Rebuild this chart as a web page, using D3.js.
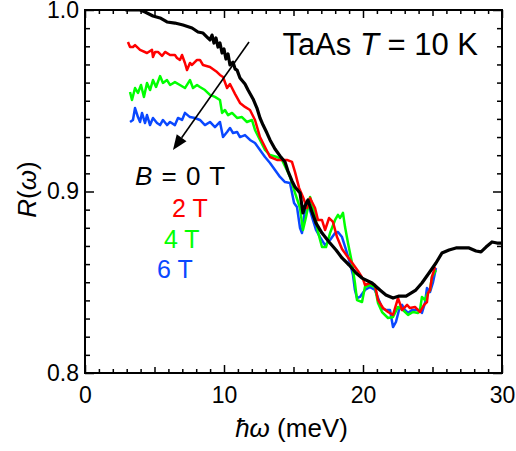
<!DOCTYPE html>
<html>
<head>
<meta charset="utf-8">
<script src="https://cdn.jsdelivr.net/npm/d3@7"></script>
<style>
  body { margin: 0; background: #fff; }
  svg { display: block; font-family: "Liberation Sans", Arial, sans-serif; }
</style>
</head>
<body>
<svg id="chart" width="516" height="451"></svg>
<script>
// photon energy (meV) and reflectivity
var b0E = [2.9, 3.96, 4.32, 4.89, 5.4, 5.9, 6.47, 7.05, 7.7, 8.13, 8.49, 8.78, 8.99, 9.14, 9.28, 9.42, 9.57, 9.71, 9.86, 10.0, 10.14, 10.29, 10.43, 10.65, 10.8, 10.94, 11.15, 11.51, 11.73, 12.09, 12.37, 12.59, 12.81, 13.09, 13.31, 13.67, 14.03, 14.39, 14.6, 14.89, 15.11, 15.47, 15.68, 15.83, 16.04, 16.33, 16.62, 17.05, 17.56, 18.06, 18.49, 19.0, 19.5, 19.93, 20.65, 21.22, 21.65, 22.16, 22.6, 23.1, 23.8, 24.24, 24.75, 25.25, 25.68, 26.19, 26.69, 27.63, 28.13, 28.49, 28.85, 29.28, 29.64, 30.0];
var b0R = [1.0, 1.0, 0.9989, 0.9967, 0.9956, 0.9934, 0.9928, 0.9917, 0.9901, 0.9879, 0.9873, 0.9851, 0.9835, 0.9862, 0.9818, 0.9846, 0.9796, 0.9818, 0.9763, 0.9785, 0.973, 0.9758, 0.9697, 0.9713, 0.9675, 0.9669, 0.9625, 0.9592, 0.9559, 0.951, 0.946, 0.9405, 0.9366, 0.9322, 0.9284, 0.9234, 0.9196, 0.9163, 0.9113, 0.9058, 0.9025, 0.8992, 0.8882, 0.892, 0.8953, 0.8887, 0.8826, 0.8771, 0.8722, 0.8678, 0.8634, 0.8595, 0.8551, 0.8523, 0.8496, 0.8457, 0.843, 0.8413, 0.8424, 0.8424, 0.8457, 0.8496, 0.8551, 0.8606, 0.8661, 0.8678, 0.8689, 0.8689, 0.8672, 0.8667, 0.8694, 0.8722, 0.8716, 0.8716];

var b2E = [3.09, 3.24, 3.45, 3.6, 3.96, 4.46, 4.82, 4.89, 5.04, 5.25, 5.54, 5.76, 6.12, 6.47, 6.62, 6.83, 6.98, 7.19, 7.34, 7.55, 7.7, 8.06, 8.27, 8.49, 8.99, 9.5, 9.71, 9.93, 10.22, 10.43, 10.79, 11.15, 11.51, 11.87, 12.23, 12.59, 12.95, 13.31, 13.81, 14.53, 14.89, 15.11, 15.4, 15.68, 15.97, 16.19, 16.55, 16.76, 17.05, 17.27, 17.56, 17.84, 18.13, 18.49, 18.85, 19.28, 19.64, 20.0, 20.14, 20.5, 20.86, 21.08, 21.44, 21.8, 22.16, 22.52, 22.81, 23.17, 23.38, 23.74, 24.1, 24.39, 24.6, 24.68, 24.82, 24.96, 25.18];
var b2R = [0.9824, 0.9796, 0.9796, 0.9807, 0.978, 0.9763, 0.978, 0.9741, 0.9769, 0.9769, 0.9747, 0.9769, 0.9752, 0.9752, 0.9736, 0.9725, 0.9752, 0.9708, 0.9669, 0.9708, 0.9697, 0.9725, 0.9725, 0.9697, 0.9686, 0.9658, 0.9642, 0.9631, 0.957, 0.9592, 0.9538, 0.9488, 0.9466, 0.9449, 0.9394, 0.93, 0.9245, 0.919, 0.9174, 0.9174, 0.9163, 0.9107, 0.902, 0.897, 0.8909, 0.8964, 0.8909, 0.8843, 0.8843, 0.8788, 0.8854, 0.8832, 0.8749, 0.8683, 0.8645, 0.86, 0.8562, 0.8518, 0.8485, 0.8496, 0.8485, 0.8402, 0.8358, 0.8336, 0.832, 0.8413, 0.8347, 0.8375, 0.8358, 0.8364, 0.8336, 0.8375, 0.8391, 0.8441, 0.8457, 0.8529, 0.8584];

var b4E = [3.24, 3.38, 3.6, 3.81, 4.03, 4.24, 4.46, 4.68, 4.89, 5.11, 5.4, 5.61, 5.9, 6.12, 6.47, 6.83, 7.19, 7.55, 7.77, 8.06, 8.27, 8.63, 8.99, 9.35, 9.71, 9.86, 10.07, 10.29, 10.58, 10.94, 11.29, 11.65, 12.01, 12.23, 12.59, 12.95, 13.31, 13.81, 14.17, 14.53, 14.75, 15.11, 15.47, 15.68, 15.9, 16.19, 16.55, 16.76, 17.05, 17.34, 17.63, 17.99, 18.2, 18.35, 18.56, 18.71, 18.92, 19.21, 19.42, 19.57, 19.93, 20.14, 20.5, 20.86, 21.08, 21.37, 21.8, 22.16, 22.52, 22.88, 23.24, 23.6, 23.96, 24.1, 24.24, 24.46, 24.6, 24.82, 24.96, 25.25];
var b4R = [0.9548, 0.9504, 0.957, 0.9543, 0.9587, 0.9521, 0.9598, 0.9559, 0.9614, 0.9576, 0.9636, 0.9598, 0.9614, 0.9587, 0.9603, 0.9587, 0.957, 0.9614, 0.957, 0.9587, 0.9576, 0.9559, 0.9532, 0.9521, 0.9504, 0.9433, 0.9449, 0.9421, 0.9433, 0.9405, 0.941, 0.9383, 0.9394, 0.9339, 0.9284, 0.9229, 0.9201, 0.919, 0.9174, 0.9118, 0.908, 0.8992, 0.8909, 0.8788, 0.886, 0.897, 0.8871, 0.8777, 0.8694, 0.8694, 0.8771, 0.8843, 0.8871, 0.8854, 0.8882, 0.8804, 0.8716, 0.8606, 0.8496, 0.8402, 0.8391, 0.8474, 0.8485, 0.8474, 0.8386, 0.8336, 0.8303, 0.8309, 0.8364, 0.8347, 0.832, 0.8336, 0.8331, 0.8347, 0.8419, 0.8402, 0.843, 0.8457, 0.8529, 0.8567];

var b6E = [3.24, 3.45, 3.6, 3.81, 3.96, 4.1, 4.32, 4.46, 4.68, 4.89, 5.18, 5.4, 5.61, 5.9, 6.12, 6.47, 6.69, 6.98, 7.19, 7.55, 7.91, 8.27, 8.63, 8.99, 9.35, 9.71, 9.93, 10.22, 10.43, 10.65, 10.94, 11.15, 11.51, 11.87, 12.23, 12.59, 12.95, 13.31, 13.67, 14.03, 14.39, 14.75, 15.04, 15.25, 15.47, 15.61, 15.83, 16.04, 16.33, 16.62, 16.91, 17.27, 17.63, 17.99, 18.2, 18.49, 18.78, 19.06, 19.28, 19.42, 19.57, 19.78, 20.14, 20.5, 20.86, 21.08, 21.37, 21.65, 21.94, 22.16, 22.37, 22.59, 22.81, 23.02, 23.24, 23.53, 23.81, 24.1, 24.24, 24.46, 24.6, 24.82, 25.04, 25.25];
var b6R = [0.9383, 0.9394, 0.946, 0.941, 0.9383, 0.9433, 0.9377, 0.9421, 0.9366, 0.9405, 0.9377, 0.9366, 0.9394, 0.9366, 0.9383, 0.9366, 0.9405, 0.9394, 0.9433, 0.941, 0.9405, 0.9394, 0.9366, 0.9383, 0.9355, 0.9383, 0.93, 0.9328, 0.935, 0.9322, 0.9328, 0.93, 0.9311, 0.9284, 0.9267, 0.9229, 0.919, 0.9157, 0.9118, 0.908, 0.9052, 0.9047, 0.8937, 0.8915, 0.8799, 0.8771, 0.8898, 0.8937, 0.886, 0.8788, 0.8749, 0.8705, 0.8733, 0.8771, 0.8777, 0.8749, 0.8678, 0.8606, 0.854, 0.8457, 0.8413, 0.8419, 0.8457, 0.8474, 0.8457, 0.8413, 0.8358, 0.8347, 0.8347, 0.8253, 0.8281, 0.8347, 0.8375, 0.8347, 0.8331, 0.8347, 0.8347, 0.8347, 0.8331, 0.8386, 0.8468, 0.8446, 0.8501, 0.8579];

var fieldLabels = ["0 T", "2 T", "4 T", "6 T"];
var fieldColors = ["#000000", "#ff0000", "#00ff00", "#0a48ff"];
var xTicks = [0, 10, 20, 30];
var yTicks = [0.8, 0.9, 1.0];

var svg = d3.select("#chart");
var W = +svg.attr("width"), H = +svg.attr("height");
var margin = {top: 10, right: 14, bottom: 78, left: 85};
var width = W - margin.left - margin.right,
    height = H - margin.top - margin.bottom;

var x = d3.scaleLinear().domain([0, 30]).range([0, width]);
var y = d3.scaleLinear().domain([0.8, 1.0]).range([height, 0]);

var g = svg.append("g").attr("transform", "translate(" + margin.left + "," + margin.top + ")");

svg.append("defs").append("clipPath").attr("id", "clip")
  .append("rect").attr("width", width).attr("height", height);

// curves, 6 T drawn first so the zero field trace sits on top
var series = [
  {E: b6E, R: b6R, c: fieldColors[3], w: 2.5},
  {E: b4E, R: b4R, c: fieldColors[2], w: 2.5},
  {E: b2E, R: b2R, c: fieldColors[1], w: 2.5},
  {E: b0E, R: b0R, c: fieldColors[0], w: 3.2}
];
var line = d3.line().x(function(d) { return x(d[0]); }).y(function(d) { return y(d[1]); });

g.append("g").attr("clip-path", "url(#clip)")
  .selectAll("path").data(series).enter().append("path")
  .attr("d", function(s) { return line(d3.zip(s.E, s.R)); })
  .attr("fill", "none")
  .attr("stroke", function(s) { return s.c; })
  .attr("stroke-width", function(s) { return s.w; })
  .attr("stroke-linejoin", "round");

// axes: ticks point inward on all four sides
function styleAxis(sel) {
  sel.select(".domain").remove();
  sel.selectAll("line").attr("stroke", "#000").attr("stroke-width", 1.5);
  sel.selectAll("text").attr("font-size", "23px").attr("fill", "#000");
}
var xMinor = d3.range(0, 31, 1).filter(function(v) { return v % 5 != 0; });
var xMid = [5, 15, 25];
var yMinor = d3.range(0, 21, 1).map(function(i) { return +(0.8 + i * 0.01).toFixed(2); })
  .filter(function(v) { return yTicks.indexOf(v) < 0; });

[[d3.axisBottom, height, 1], [d3.axisTop, 0, 0]].forEach(function(a) {
  var ax = g.append("g").attr("transform", "translate(0," + a[1] + ")");
  ax.append("g").call(a[0](x).tickValues(xMinor).tickSize(-4).tickFormat("")).call(styleAxis);
  ax.append("g").call(a[0](x).tickValues(xMid).tickSize(-6).tickFormat("")).call(styleAxis);
  ax.append("g").call(a[0](x).tickValues(xTicks).tickSize(-8).tickPadding(14)
    .tickFormat(a[2] ? d3.format("d") : "")).call(styleAxis);
});
[[d3.axisLeft, 0, 1], [d3.axisRight, width, 0]].forEach(function(a) {
  var ax = g.append("g").attr("transform", "translate(" + a[1] + ",0)");
  ax.append("g").call(a[0](y).tickValues(yMinor).tickSize(-5).tickFormat("")).call(styleAxis);
  ax.append("g").call(a[0](y).tickValues(yTicks).tickSize(-9).tickPadding(6)
    .tickFormat(a[2] ? d3.format(".1f") : "")).call(styleAxis);
});

g.append("rect").attr("width", width).attr("height", height)
  .attr("fill", "none").attr("stroke", "#000").attr("stroke-width", 2);

// axis titles
var xt = svg.append("text")
  .attr("x", margin.left + width / 2 - 2).attr("y", 437)
  .attr("text-anchor", "middle").attr("font-size", "26px");
xt.append("tspan").attr("font-style", "italic").text("ħω");
xt.append("tspan").text(" (meV)");

var yt = svg.append("text")
  .attr("transform", "translate(36," + (margin.top + y(0.9) - 2) + ") rotate(-90)")
  .attr("text-anchor", "middle").attr("font-size", "26px");
yt.append("tspan").attr("font-style", "italic").text("R");
yt.append("tspan").text("(");
yt.append("tspan").attr("font-style", "italic").text("ω");
yt.append("tspan").text(")");

// sample label
var tl = g.append("text").attr("x", x(14.2)).attr("y", y(0.9752)).attr("font-size", "31px");
tl.append("tspan").text("TaAs ");
tl.append("tspan").attr("font-style", "italic").text("T");
tl.append("tspan").text(" = 10 K");

// field labels
var labPos = [[3.6, 0.9036], [6.26, 0.886], [5.68, 0.8689], [5.18, 0.8523]];
labPos.forEach(function(p, i) {
  var t = g.append("text").attr("x", x(p[0])).attr("y", y(p[1]))
    .attr("font-size", "25px").attr("fill", fieldColors[i]);
  if (i == 0) {
    t.attr("font-size", "26px").attr("word-spacing", "2px");
    t.append("tspan").attr("font-style", "italic").text("B");
    t.append("tspan").text(" = " + fieldLabels[i]);
  } else {
    t.text(fieldLabels[i]);
  }
});

// arrow showing increasing field
var arrow = {from: [11.8, 0.9824], to: [6.33, 0.9229]};
var x1 = x(arrow.from[0]), y1 = y(arrow.from[1]), x2 = x(arrow.to[0]), y2 = y(arrow.to[1]);
var ang = Math.atan2(y2 - y1, x2 - x1), hl = 15, hw = 6;
var bx = x2 - hl * Math.cos(ang), by = y2 - hl * Math.sin(ang);
g.append("line").attr("x1", x1).attr("y1", y1).attr("x2", bx).attr("y2", by)
  .attr("stroke", "#000").attr("stroke-width", 1.6);
g.append("path")
  .attr("d", "M" + x2 + "," + y2 +
    "L" + (bx + hw * Math.sin(ang)) + "," + (by - hw * Math.cos(ang)) +
    "L" + (bx - hw * Math.sin(ang)) + "," + (by + hw * Math.cos(ang)) + "Z")
  .attr("fill", "#000");
</script>
</body>
</html>
